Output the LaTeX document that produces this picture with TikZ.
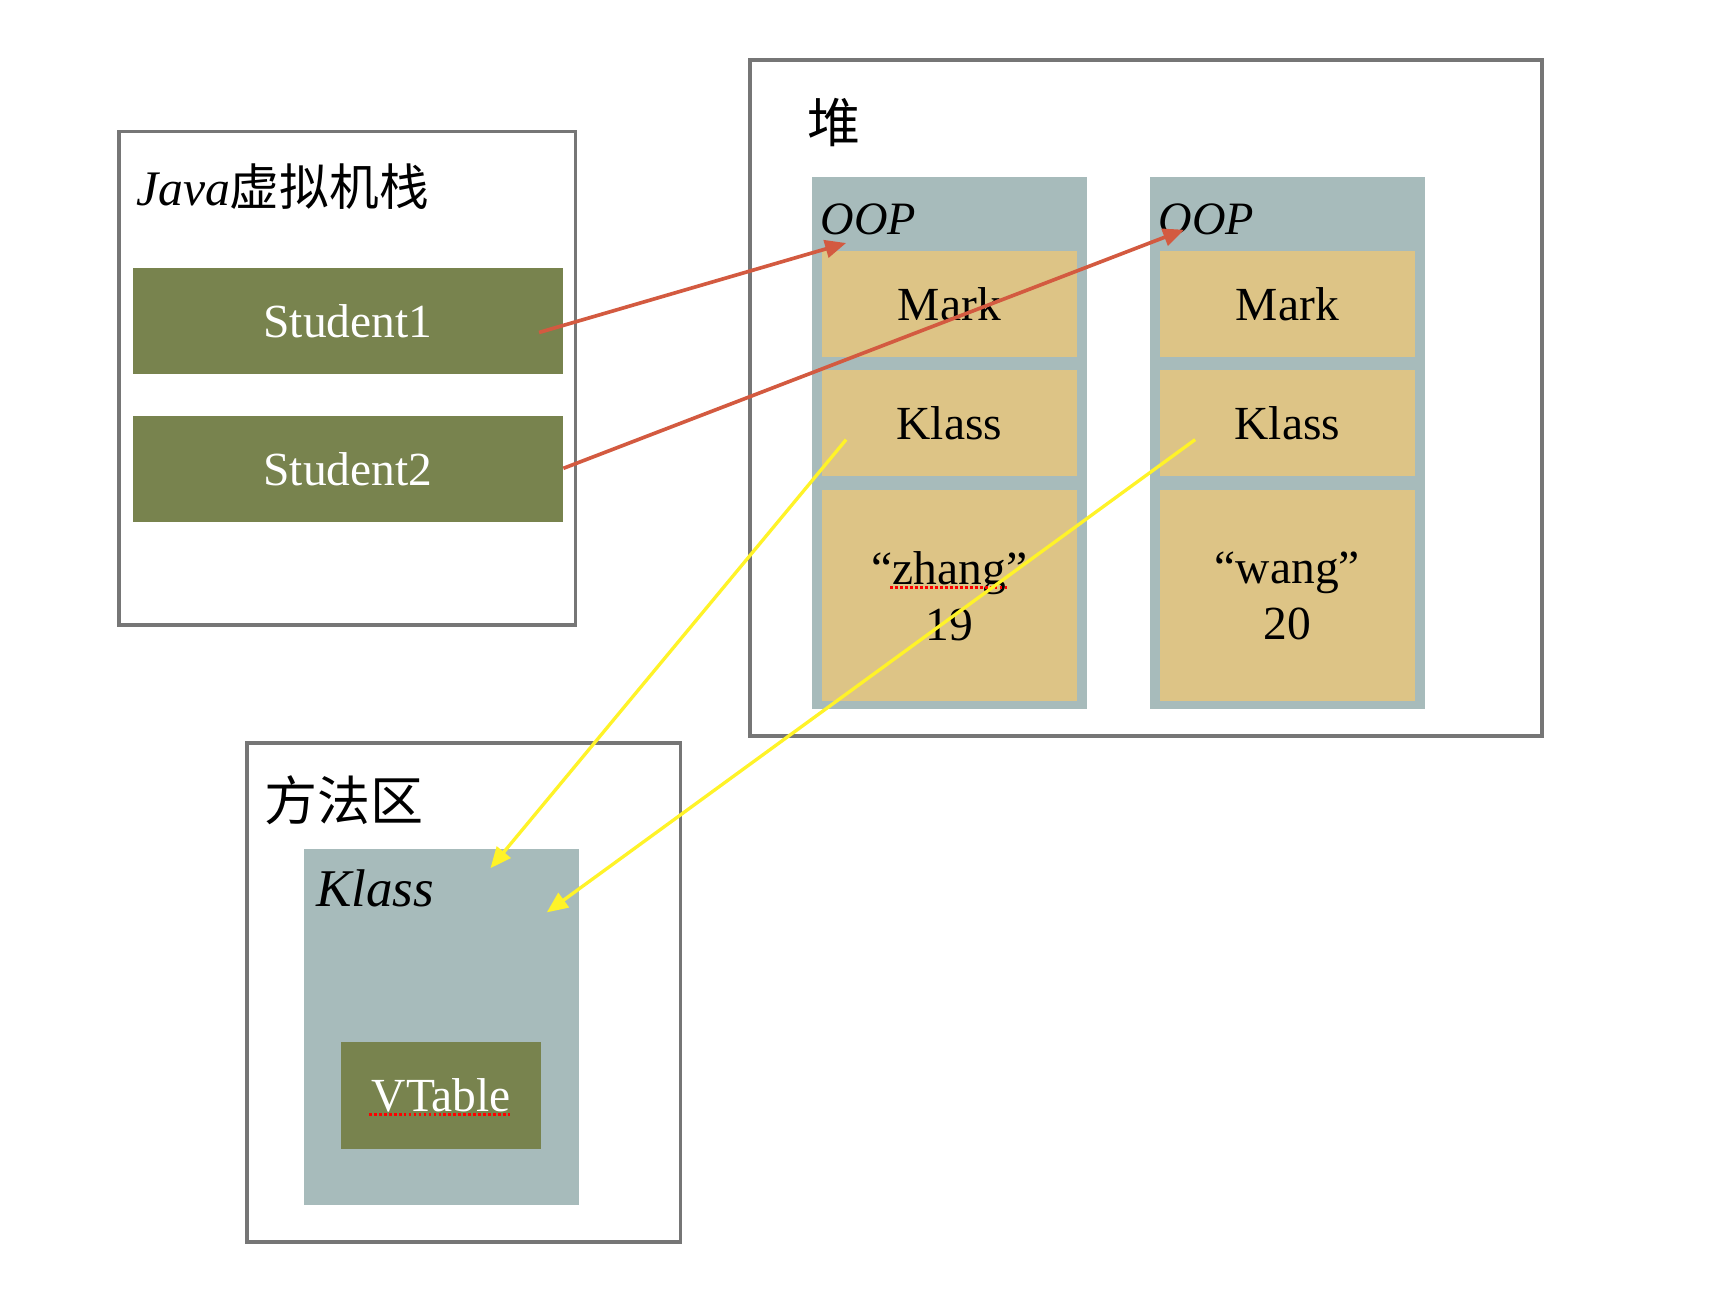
\documentclass[tikz,border=0pt]{standalone}
\usepackage{fontspec}
\setmainfont{Liberation Serif}
\newfontfamily\cjk{Noto Sans CJK SC}
\usetikzlibrary{arrows.meta,calc}
\definecolor{frameC}{HTML}{767676}
\definecolor{oliveG}{HTML}{78834E}
\definecolor{tanC}{HTML}{DDC486}
\definecolor{slateC}{HTML}{A7BBBB}
\definecolor{redA}{HTML}{D35A40}
\definecolor{yelA}{RGB}{255,243,40}
\begin{document}
\begin{tikzpicture}[x=1pt,y=-1pt,
  box/.style={inner sep=0pt, outer sep=0pt, anchor=north west},
  frame/.style={box, draw=frameC, line width=3.5pt, fill=white},
  greenbox/.style={box, fill=oliveG, text=white, font=\fontsize{43}{50}\selectfont},
  slatebox/.style={box, fill=slateC},
  tanbox/.style={box, fill=tanC, font=\fontsize{43}{51}\selectfont, align=center},
  title/.style={inner sep=0pt, anchor=base west, font=\fontsize{48}{56}\selectfont},
  lbl/.style={inner sep=0pt, anchor=base west, font=\fontsize{42}{50}\selectfont\itshape},
  redarrow/.style={draw=redA, line width=3.3pt, -{Triangle[length=19pt,width=16pt]}},
  yelarrow/.style={draw=yelA, line width=3pt, -{Triangle[length=19pt,width=16pt]}},
  spell/.style={draw=red, line width=2.6pt, dash pattern=on 2.5pt off 2pt}
]
\useasboundingbox[fill=white] (0,0) rectangle (1568,1182);

% JVM stack
\node[frame, minimum width=413pt, minimum height=447pt] (jvm) at (108,119) {};
\node[title, font=\fontsize{45}{52}\selectfont] (jvmt) at (123,186) {\textit{Java}{\cjk 虚拟机栈}};
\node[greenbox, minimum width=390pt, minimum height=96pt] (s1) at (120,243) {Student1};
\node[greenbox, minimum width=390pt, minimum height=96pt] (s2) at (120,377) {Student2};

% Heap
\node[frame, minimum width=717pt, minimum height=612pt] (heap) at (679,54) {};
\node[title] (heapt) at (731,129) {\cjk 堆};

\node[slatebox, minimum width=249pt, minimum height=482pt] (oop1) at (735,160) {};
\node[lbl] (oop1t) at (743,212) {OOP};
\node[tanbox, minimum width=231pt, minimum height=96pt] (mark1) at (744,227) {Mark};
\node[tanbox, minimum width=231pt, minimum height=96pt] (klass1) at (744,335) {Klass};
\node[tanbox, minimum width=231pt, minimum height=191pt] (data1) at (744,444) {“zhang”\\19};

\node[slatebox, minimum width=249pt, minimum height=482pt] (oop2) at (1041,160) {};
\node[lbl] (oop2t) at (1049,212) {OOP};
\node[tanbox, minimum width=231pt, minimum height=96pt] (mark2) at (1050,227) {Mark};
\node[tanbox, minimum width=231pt, minimum height=96pt] (klass2) at (1050,335) {Klass};
\node[tanbox, minimum width=231pt, minimum height=191pt] (data2) at (1050,444) {“wang”\\20};

% Method area
\node[frame, minimum width=392pt, minimum height=451pt] (meth) at (224,673) {};
\node[title] (metht) at (239,743) {\cjk 方法区};
\node[slatebox, minimum width=249pt, minimum height=322pt] (kbox) at (275,769) {};
\node[lbl, font=\fontsize{48}{56}\selectfont\itshape] (kboxt) at (286,821) {Klass};
\node[greenbox, minimum width=181pt, minimum height=97pt] (vt) at (309,943) {VTable};

% spell-check marks
\draw[spell] (806,532) -- (912,532);
\draw[spell] (334,1009) -- (462,1009);

% connectors
\draw[redarrow] ($(s1.east)+(-22,10)$) -- ($(mark1.north west)+(22,-7)$);
\draw[redarrow] ($(s2.east)+(0,-1)$) -- ($(mark2.north west)+(22,-19)$);
\draw[yelarrow] ($(klass1.west)+(22,15)$) -- ($(kbox.north west)+(169,17)$);
\draw[yelarrow] ($(klass2.west)+(32,15)$) -- ($(kbox.north west)+(220,57)$);
\end{tikzpicture}
\end{document}
